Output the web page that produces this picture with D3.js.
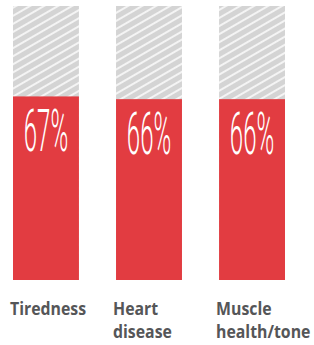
<!DOCTYPE html>
<html>
<head>
<meta charset="utf-8">
<script src="https://cdn.jsdelivr.net/npm/d3@7"></script>
<style>
  body { margin: 0; background: #fff; }
</style>
</head>
<body>
<div class="chart"></div>
<script>
const categories = ['Tiredness', 'Heart disease', 'Muscle health/tone'];
const labelLines = [['Tiredness'], ['Heart', 'disease'], ['Muscle', 'health/tone']];
const values = [67, 66, 66];

const width = 314, height = 345;
const margin = { top: 6, bottom: 65 };
const innerH = height - margin.top - margin.bottom;

const svg = d3.select('.chart')
    .append('svg')
    .attr('width', width)
    .attr('height', height);

const defs = svg.append('defs');
const pat = defs.append('pattern')
    .attr('id', 'hatch')
    .attr('patternUnits', 'userSpaceOnUse')
    .attr('width', 7)
    .attr('height', 7)
    .attr('patternTransform', 'rotate(-30)');
pat.append('rect')
    .attr('width', 7)
    .attr('height', 7)
    .attr('fill', '#d4d4d4');
pat.append('line')
    .attr('x1', 0).attr('y1', 1)
    .attr('x2', 7).attr('y2', 1)
    .attr('stroke', '#fff')
    .attr('stroke-width', 1.5);

const g = svg.append('g')
    .attr('transform', `translate(0,${margin.top})`);

const x = d3.scaleBand()
    .domain(categories)
    .range([13, 285])
    .paddingInner(0.36)
    .paddingOuter(0);

const y = d3.scaleLinear()
    .domain([0, 100])
    .range([innerH, 0]);

// grey background (100%)
g.selectAll('rect.bg')
    .data(categories)
    .join('rect')
    .attr('class', 'bg')
    .attr('x', d => x(d))
    .attr('y', y(100))
    .attr('width', x.bandwidth())
    .attr('height', innerH)
    .attr('fill', 'url(#hatch)');

g.selectAll('rect.bar')
    .data(values)
    .join('rect')
    .attr('class', 'bar')
    .attr('x', (d, i) => x(categories[i]))
    .attr('y', d => y(d))
    .attr('width', x.bandwidth())
    .attr('height', d => innerH - y(d))
    .attr('fill', '#e23c41');

g.selectAll('text.val')
    .data(values)
    .join('text')
    .attr('class', 'val')
    .attr('transform', (d, i) => `translate(${x(categories[i]) + x.bandwidth() / 2},${y(d) + 54.5}) scale(0.4,1)`)
    .attr('text-anchor', 'middle')
    .style('font-family', 'Roboto')
    .style('font-weight', 300)
    .style('font-size', '60px')
    .style('fill', '#fff')
    .text(d => d + '%');

const labels = g.selectAll('text.cat')
    .data(labelLines)
    .join('text')
    .attr('class', 'cat')
    .attr('transform', (d, i) => `translate(${x(categories[i]) - 3},${innerH + 35}) scale(0.88,1)`)
    .style('font-family', 'Open Sans')
    .style('font-weight', 700)
    .style('font-size', '18px')
    .style('fill', '#555658');

labels.selectAll('tspan')
    .data(d => d)
    .join('tspan')
    .attr('x', 0)
    .attr('dy', (d, i) => i === 0 ? 0 : 23)
    .text(d => d);
</script>
</body>
</html>
